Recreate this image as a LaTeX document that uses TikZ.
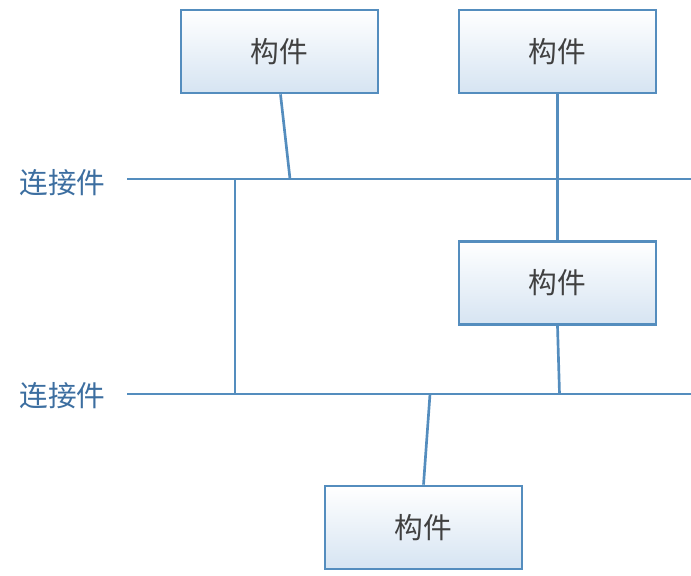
\documentclass[tikz,border=0pt]{standalone}
\usepackage{fontspec}
\newfontfamily\cjk{Noto Sans CJK SC}
\definecolor{lineblue}{RGB}{84,141,190}
\definecolor{boxtop}{RGB}{255,255,255}
\definecolor{boxbot}{RGB}{214,228,242}
\definecolor{txtblue}{RGB}{60,110,160}
\tikzset{every picture/.style={line width=2pt}}
\tikzset{
  partbox/.style={draw=lineblue,top color=boxtop,bottom color=boxbot,minimum width=147.75pt,minimum height=62.25pt,inner sep=0pt,font=\cjk\fontsize{21.5}{21.5}\selectfont,text=black!75},
  conlabel/.style={anchor=west,inner sep=0pt,font=\cjk\fontsize{21.5}{21.5}\selectfont,text=txtblue},
  wire/.style={draw=lineblue}
}
\begin{document}
\begin{tikzpicture}[x=0.75pt,y=0.75pt,yscale=-1,xscale=1]
\useasboundingbox (0,0) rectangle (691,575);
%components
\node[partbox] (pa) at (279.5,51.5) {构件};
\node[partbox] (pb) at (557.5,51.5) {构件};
\node[partbox] (pc) at (557.5,283) {构件};
\node[partbox] (pd) at (423.5,527.5) {构件};
%connectors
\node[conlabel] (la) at (18,183) {连接件};
\node[conlabel] (lb) at (18,396) {连接件};
\coordinate (c1l) at (127,179);
\coordinate (c1r) at (691,179);
\coordinate (c2l) at (127,394);
\coordinate (c2r) at (691,394);
\draw[wire] (c1l) -- (c1r);
\draw[wire] (c2l) -- (c2r);
\draw[wire] (235,179) -- (235,394);
\draw[wire] ([xshift=0.75pt]pa.south) -- (290,179);
\draw[wire] (pb.south) -- (pc.north);
\draw[wire] (pc.south) -- (559.5,394);
\draw[wire] (430,394) -- (pd.north);
\end{tikzpicture}
\end{document}
